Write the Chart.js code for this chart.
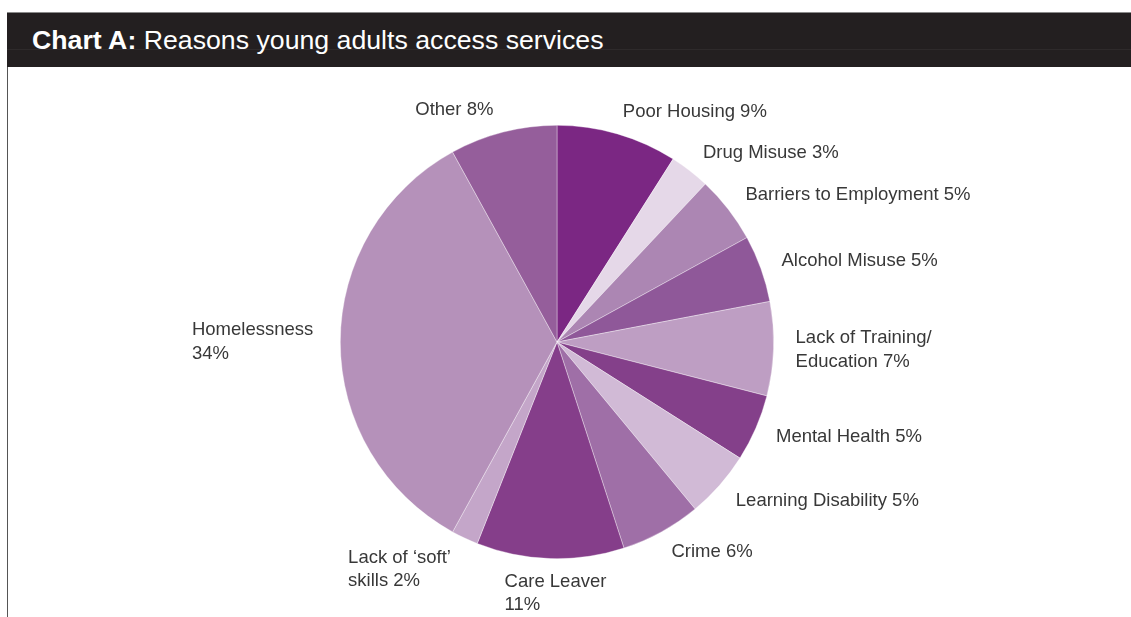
<!DOCTYPE html>
<html>
<head>
<meta charset="utf-8">
<script src="https://cdn.jsdelivr.net/npm/chart.js@4.4.0/dist/chart.umd.min.js"></script>
<style>
  html, body { margin: 0; padding: 0; background: #fff; }
  body { width: 1131px; height: 617px; position: relative; overflow: hidden; font-family: "Liberation Sans", Arial, Helvetica, sans-serif; }
  #header { position: absolute; left: 7px; top: 12px; width: 1124px; height: 55px; background: #231f20; border-top: 1px solid #8a8a8a; box-sizing: border-box; }
  #header .sheen { position: absolute; left: 0; right: 0; top: 36px; height: 1px; background: rgba(255,255,255,0.05); }
  #title { position: absolute; left: 25px; top: 12px; color: #fff; font-size: 26.7px; line-height: 30px; white-space: nowrap; }
  #title b { font-weight: bold; }
  #vline { position: absolute; left: 7px; top: 67px; width: 1px; height: 550px; background: #555; }
  #wrap { position: absolute; left: 0; top: 0; width: 1131px; height: 617px; }
</style>
</head>
<body>
<div id="wrap"><canvas id="c"></canvas></div>
<div id="header"><div class="sheen"></div><div id="title"><b>Chart A:</b> Reasons young adults access services</div></div>
<div id="vline"></div>
<script>
const categories = [
  ["Poor Housing 9%"],
  ["Drug Misuse 3%"],
  ["Barriers to Employment 5%"],
  ["Alcohol Misuse 5%"],
  ["Lack of Training/", "Education 7%"],
  ["Mental Health 5%"],
  ["Learning Disability 5%"],
  ["Crime 6%"],
  ["Care Leaver", "11%"],
  ["Lack of \u2018soft\u2019", "skills 2%"],
  ["Homelessness", "34%"],
  ["Other 8%"]
];
const values = [9, 3, 5, 5, 7, 5, 5, 6, 11, 2, 34, 8];
const colors = [
  "#7b2783", "#e5d8e8", "#ac86b3", "#8f5899", "#be9ec3", "#84408a",
  "#d1bad6", "#9f6fa7", "#853e8a", "#c4a6c9", "#b591ba", "#955e9b"
];

const outsideLabels = {
  id: "outsideLabels",
  afterDatasetsDraw(chart) {
    const ctx = chart.ctx;
    const meta = chart.getDatasetMeta(0);
    const fontSize = 18.5;
    const lineH = 23.5;
    ctx.save();
    ctx.font = fontSize + 'px "Liberation Sans", Arial, Helvetica, sans-serif';
    ctx.fillStyle = "#383838";
    ctx.textBaseline = "middle";
    ctx.textAlign = "left";
    meta.data.forEach((arc, i) => {
      const p = arc.getProps(["x", "y", "startAngle", "endAngle", "outerRadius"], true);
      const mid = (p.startAngle + p.endAngle) / 2;
      const r = p.outerRadius + 23;
      const cx = Math.cos(mid), sy = Math.sin(mid);
      const ax = p.x + r * cx;
      const ay = p.y + r * sy;
      const lines = categories[i];
      const w = Math.max(...lines.map(l => ctx.measureText(l).width));
      const h = lines.length * lineH;
      let left;
      if (cx > 0.2) left = ax - 1;
      else if (cx < -0.2) left = ax - w - 4;
      else left = ax - w / 2 + 6;
      const cy = ay + sy * (h - lineH) / 2;
      const top = cy - h / 2;
      lines.forEach((l, k) => {
        ctx.fillText(l, left, top + lineH * (k + 0.5));
      });
    });
    ctx.restore();
  }
};

new Chart(document.getElementById("c"), {
  type: "pie",
  data: {
    labels: categories.map(c => c.join(" ")),
    datasets: [{
      data: values,
      backgroundColor: colors,
      borderColor: "rgba(255,255,255,0.6)",
      borderWidth: 0.6
    }]
  },
  options: {
    responsive: true,
    maintainAspectRatio: false,
    animation: false,
    layout: { padding: { left: 340, right: 357, top: 125, bottom: 58 } },
    plugins: {
      legend: { display: false },
      tooltip: { enabled: false },
      title: { display: false }
    }
  },
  plugins: [outsideLabels]
});
</script>
</body>
</html>
